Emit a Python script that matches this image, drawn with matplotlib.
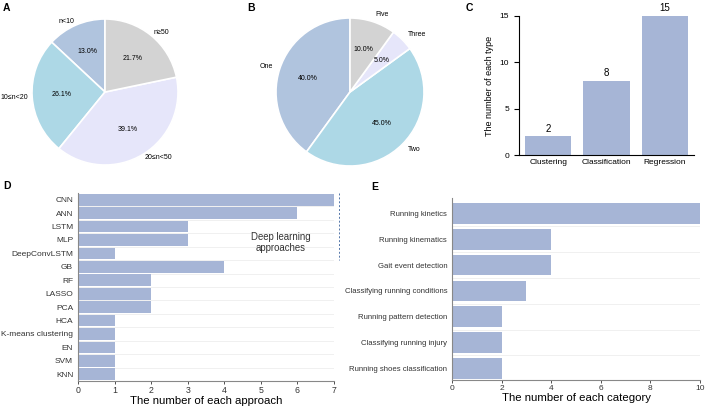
import numpy as np
import matplotlib.pyplot as plt

plt.rcParams['font.family'] = ['Liberation Sans', 'DejaVu Sans']

# panel A: sample size
a_labels = ['n<10', '10≤n<20', '20≤n<50', 'n≥50']
a_counts = [3, 6, 9, 5]
# panel B: number of sensors
b_labels = ['One', 'Two', 'Three', 'Five']
b_counts = [8, 9, 1, 2]
# panel C: type of task
c_labels = ['Clustering', 'Classification', 'Regression']
c_counts = [2, 8, 15]
# panel D: approaches
d_labels = ['CNN', 'ANN', 'LSTM', 'MLP', 'DeepConvLSTM', 'GB', 'RF', 'LASSO', 'PCA',
            'HCA', 'K-means clustering', 'EN', 'SVM', 'KNN']
d_counts = [7, 6, 3, 3, 1, 4, 2, 2, 2, 1, 1, 1, 1, 1]
# panel E: categories
e_labels = ['Running kinetics', 'Running kinematics', 'Gait event detection',
            'Classifying running conditions', 'Running pattern detection',
            'Classifying running injury', 'Running shoes classification']
e_counts = [10, 4, 4, 3, 2, 2, 2]

W, H = 708, 409
fig = plt.figure(figsize=(W / 100, H / 100), dpi=100)

def px_axes(x0, y0, x1, y1):
    return fig.add_axes([x0 / W, 1 - y1 / H, (x1 - x0) / W, (y1 - y0) / H])

pie_cols = ['#b0c4de', '#add8e6', '#e6e6fa', '#d3d3d3']
bar_col = '#a6b5d6'
spine_col = '#888888'

def draw_pie(cx, cy, r, counts, labels, colors, ldist):
    s = r * 1.3
    ax = px_axes(cx - s, cy - s, cx + s, cy + s)
    ax.pie(counts, labels=labels, colors=colors, startangle=90, counterclock=True,
           autopct='%1.1f%%', pctdistance=0.6, labeldistance=ldist,
           wedgeprops=dict(edgecolor='white', linewidth=1.2),
           textprops=dict(fontsize=5))
    ax.set_xlim(-1.3, 1.3)
    ax.set_ylim(-1.3, 1.3)
    return ax

draw_pie(105, 92, 73, a_counts, a_labels, pie_cols, 1.05)
draw_pie(350, 92, 74, b_counts, b_labels, pie_cols, 1.1)

# panel C
axc = px_axes(519, 16, 694, 155)
xc = np.arange(len(c_labels))
axc.bar(xc, c_counts, width=0.8, color=bar_col)
for x, v in zip(xc, c_counts):
    axc.text(x, v + 0.3, str(v), ha='center', va='bottom', fontsize=7)
axc.set_ylim(0, 15)
axc.set_xlim(-0.5, 2.5)
axc.set_yticks([0, 5, 10, 15])
axc.set_xticks(xc)
axc.set_xticklabels(c_labels, fontsize=6)
axc.tick_params(axis='y', labelsize=6)
axc.tick_params(axis='x', length=0, pad=3)
axc.set_ylabel('The number of each type', fontsize=6.5)
for s in ['top', 'right']:
    axc.spines[s].set_visible(False)

def style_barh(ax):
    for s in ['top', 'right']:
        ax.spines[s].set_visible(False)
    for s in ['left', 'bottom']:
        ax.spines[s].set_color(spine_col)
    ax.tick_params(axis='both', colors='#333333', length=2, width=0.6)
    ax.tick_params(axis='y', length=0)

# panel D
axd = px_axes(78, 193, 334, 381)
yd = np.arange(len(d_labels))
axd.barh(yd, d_counts, height=0.88, color=bar_col, zorder=2)
axd.set_ylim(len(d_labels) - 0.5, -0.5)
axd.set_xlim(0, 7)
axd.set_yticks(yd)
axd.set_yticklabels(d_labels, fontsize=6)
axd.set_yticks(yd[:-1] + 0.5, minor=True)
axd.tick_params(axis='y', which='minor', length=0)
axd.grid(axis='y', which='minor', color='#eeeeee', linewidth=0.6, zorder=0)
axd.tick_params(axis='x', labelsize=6.3, pad=1.5)
axd.set_xlabel('The number of each approach', fontsize=8.2, labelpad=1)
style_barh(axd)
axd.plot([7.14, 7.14], [-0.5, 4.5], ls=(0, (2, 2)), color='#5577aa', lw=0.7, clip_on=False)
axd.text(5.55, 3.2, 'Deep learning\napproaches', ha='center', va='center', fontsize=6.9,
         color='#333333')

# panel E
axe = px_axes(452, 198, 700, 380)
ye = np.arange(len(e_labels))
axe.barh(ye, e_counts, height=0.8, color=bar_col, zorder=2)
axe.set_ylim(len(e_labels) - 0.55, -0.6)
axe.set_xlim(0, 10)
axe.set_xticks([0, 2, 4, 6, 8, 10])
axe.set_yticks(ye)
axe.set_yticklabels(e_labels, fontsize=5.6)
axe.set_yticks(ye[:-1] + 0.5, minor=True)
axe.tick_params(axis='y', which='minor', length=0)
axe.grid(axis='y', which='minor', color='#eeeeee', linewidth=0.6, zorder=0)
axe.tick_params(axis='x', labelsize=6, pad=1.5)
axe.set_xlabel('The number of each category', fontsize=8.2, labelpad=1)
style_barh(axe)

# panel letters
for lab, x, y in [('A', 3, 3), ('B', 247, 3), ('C', 466, 3), ('D', 3, 181), ('E', 371, 182)]:
    fig.text(x / W, 1 - y / H, lab, fontsize=7.5, fontweight='bold', va='top', ha='left')

fig.savefig('out.png', dpi=100)
